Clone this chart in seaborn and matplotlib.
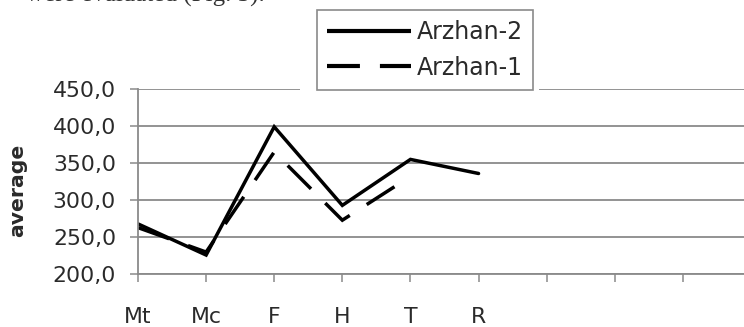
import numpy as np
import pandas as pd
import seaborn as sns
import matplotlib
matplotlib.use("Agg")
import matplotlib.pyplot as plt
from matplotlib.lines import Line2D
from matplotlib.patches import Rectangle

# Average values per site for the two Arzhan barrows
sites = ["Mt", "Mc", "F", "H", "T", "R"]
arzhan_2 = [268, 226, 399, 293, 355, 336]
arzhan_1 = [263, 230, 365, 273, 332, np.nan]
series_names = ["Arzhan-2", "Arzhan-1"]
y_ticks = [200, 250, 300, 350, 400, 450]
n_slots = 10  # category slots on the x axis (the last ones are empty)

sns.set_theme(style="white")
plt.rcParams["font.family"] = ["DejaVu Sans"]

W, H = 744, 327
fig = plt.figure(figsize=(W / 100, H / 100), dpi=100)
ax = fig.add_axes([138 / W, 1 - 274.3 / H, (751 - 138) / W, (274.3 - 89) / H])

df = pd.DataFrame({
    "pos": list(range(len(sites))) * 2,
    "value": arzhan_2 + arzhan_1,
    "series": [series_names[0]] * len(sites) + [series_names[1]] * len(sites),
})

plot_dash = (9.5, 5.8)
sns.lineplot(
    data=df, x="pos", y="value", style="series", style_order=series_names,
    dashes={series_names[0]: "", series_names[1]: plot_dash},
    color="black", linewidth=2.5, legend=False, errorbar=None, sort=False, ax=ax,
)
for ln in ax.lines:
    ln.set_solid_joinstyle("miter")
    ln.set_dash_joinstyle("miter")
    ln.set_dash_capstyle("butt")

grid_c = "#8a8a8a"
text_c = "#2a2a2a"

ax.set_xlim(0, n_slots - 1)
ax.set_ylim(y_ticks[0], y_ticks[-1])
ax.set_xticks(range(n_slots))
ax.set_xticklabels(sites + [""] * (n_slots - len(sites)))
ax.set_yticks(y_ticks)
ax.set_yticklabels([f"{v:.1f}".replace(".", ",") for v in y_ticks])
ax.set_xlabel("")
ax.set_ylabel("")

ax.yaxis.grid(True, color=grid_c, linewidth=1.3)
ax.xaxis.grid(False)
ax.set_axisbelow(True)

for side in ["top", "right"]:
    ax.spines[side].set_visible(False)
for side in ["left", "bottom"]:
    ax.spines[side].set_color(grid_c)
    ax.spines[side].set_linewidth(1.3)

ax.tick_params(axis="both", bottom=True, left=True, direction="out",
               length=5.8, width=1.1, color=grid_c, labelcolor=text_c,
               labelsize=15.8)
ax.tick_params(axis="x", pad=18)
ax.tick_params(axis="y", pad=10)

# Axis title
fig.text(18 / W, 1 - 190 / H, "average", rotation=90, ha="center", va="center",
         fontweight="bold", fontsize=14.7, color=text_c)

# Running text of the page above the figure (only its lower edge lies on the page)
fig.text(265 / W, 1 - 2 / H, "were evaluated (Fig. 5).", ha="right", va="baseline",
         family=["Liberation Serif"], fontsize=18, color="#333333")

# White band behind the legend box, interrupting the top gridline
fig.patches.append(Rectangle((300 / W, 1 - 95 / H), (539 - 300) / W, 10 / H,
                             transform=fig.transFigure, facecolor="white",
                             edgecolor="none", zorder=2))

handles = [
    Line2D([], [], color="black", linewidth=3, solid_capstyle="butt"),
    Line2D([], [], color="black", linewidth=3, dashes=(7.9, 4.8),
           dash_capstyle="butt"),
]
leg = fig.legend(handles, series_names, loc="upper left",
                 bbox_to_anchor=(317 / W, 1 - 10 / H), bbox_transform=fig.transFigure,
                 frameon=True, fancybox=False, shadow=False, framealpha=1,
                 edgecolor=grid_c, facecolor="white", fontsize=17,
                 handlelength=3.56, handletextpad=0.25, borderpad=0.42,
                 labelspacing=0.5, borderaxespad=0)
leg.get_frame().set_linewidth(1.2)
for t in leg.get_texts():
    t.set_color(text_c)
leg.set_zorder(5)

fig.savefig("out.png", dpi=100)
